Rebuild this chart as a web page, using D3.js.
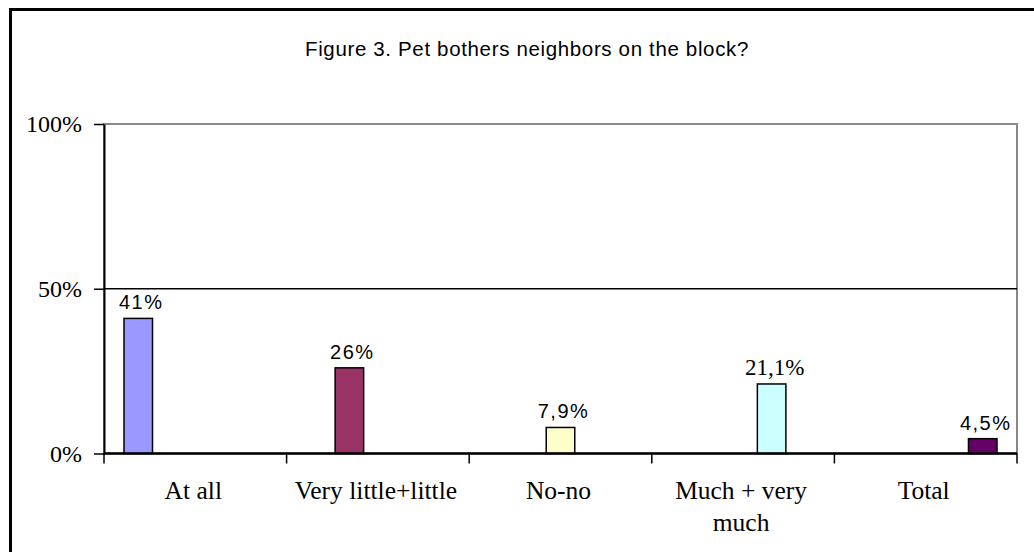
<!DOCTYPE html>
<html>
<head>
<meta charset="utf-8">
<script src="https://cdn.jsdelivr.net/npm/d3@7"></script>
<style>
  html, body { margin: 0; padding: 0; background: #fff; }
  svg { display: block; }
</style>
</head>
<body>
<svg id="chart" width="1034" height="552"></svg>
<script>
// Survey answers: does the pet bother neighbours on the block?
const categories = ["At all", "Very little+little", "No-no", "Much + very much", "Total"];
const tickLines = [["At all"], ["Very little+little"], ["No-no"], ["Much + very", "much"], ["Total"]];
const values = [41, 26, 7.9, 21.1, 4.5];
const valueLabels = ["41%", "26%", "7,9%", "21,1%", "4,5%"];
const colors = ["#9999ff", "#993366", "#ffffcc", "#ccffff", "#660066"];
const yTicks = [0, 50, 100];

const svg = d3.select("#chart");

// outer frame of the figure
svg.append("rect")
  .attr("x", 10.5).attr("y", 9.5)
  .attr("width", 1100).attr("height", 600)
  .attr("fill", "none").attr("stroke", "#000").attr("stroke-width", 3);

svg.append("text")
  .attr("x", 527).attr("y", 56)
  .attr("text-anchor", "middle")
  .attr("font-family", "Arial, 'Liberation Sans', sans-serif")
  .attr("font-size", 20.5)
  .attr("letter-spacing", 0.65)
  .text("Figure 3. Pet bothers neighbors on the block?");

const plotLeft = 104, plotRight = 1017, plotTop = 124, plotBottom = 453.5;

const x0 = d3.scaleBand().domain(categories).range([plotLeft, plotRight]);
const x1 = d3.scaleBand().domain(categories).range([20, x0.bandwidth() - 20]);
const y = d3.scaleLinear().domain([0, 100]).range([plotBottom, plotTop]);

// plot area border
svg.append("rect")
  .attr("x", plotLeft).attr("y", plotTop)
  .attr("width", plotRight - plotLeft).attr("height", plotBottom - plotTop)
  .attr("fill", "none").attr("stroke", "#888").attr("stroke-width", 2);

// gridline at 50%
svg.append("line")
  .attr("x1", plotLeft).attr("x2", plotRight)
  .attr("y1", y(50)).attr("y2", y(50))
  .attr("stroke", "#000").attr("stroke-width", 1.5);

// bars
svg.append("g").selectAll("rect")
  .data(categories)
  .join("rect")
  .attr("x", (d, i) => x0(d) + x1(d))
  .attr("y", (d, i) => y(values[i]))
  .attr("width", x1.bandwidth())
  .attr("height", (d, i) => y(0) - y(values[i]))
  .attr("fill", (d, i) => colors[i])
  .attr("stroke", "#000").attr("stroke-width", 1.5);

// value labels
svg.append("g").selectAll("text")
  .data(categories)
  .join("text")
  .attr("x", (d, i) => x0(d) + x1(d) + x1.bandwidth() / 2 + 3)
  .attr("y", (d, i) => y(values[i]) - 9)
  .attr("text-anchor", "middle")
  .attr("font-family", (d, i) => i === 3 ? "'Times New Roman', 'Liberation Serif', serif" : "Arial, 'Liberation Sans', sans-serif")
  .attr("font-size", (d, i) => i === 3 ? 23 : 20)
  .attr("letter-spacing", (d, i) => i === 3 ? 0 : 1.5)
  .text((d, i) => valueLabels[i]);

// y axis
const yAxis = svg.append("g")
  .attr("transform", `translate(${plotLeft},0)`)
  .call(d3.axisLeft(y).tickValues(yTicks).tickFormat(d => d + "%").tickSize(10).tickSizeOuter(0));
yAxis.select(".domain").attr("stroke-width", 2);
yAxis.selectAll(".tick line").attr("stroke-width", 1.5);
yAxis.selectAll(".tick text")
  .attr("x", -22)
  .attr("font-family", "'Times New Roman', 'Liberation Serif', serif")
  .attr("font-size", 24)
  .attr("fill", "#000");

// x axis: ticks on category boundaries
const xAxis = svg.append("g").attr("transform", `translate(0,${plotBottom})`);
xAxis.append("line")
  .attr("x1", plotLeft).attr("x2", plotRight)
  .attr("stroke", "#000").attr("stroke-width", 2.5);
const bounds = categories.map(c => x0(c)).concat([plotRight]);
xAxis.selectAll("line.tk")
  .data(bounds)
  .join("line").attr("class", "tk")
  .attr("x1", d => d).attr("x2", d => d)
  .attr("y1", 0).attr("y2", 10)
  .attr("stroke", "#000").attr("stroke-width", 1.5);

const labels = xAxis.selectAll("text")
  .data(categories)
  .join("text")
  .attr("text-anchor", "middle")
  .attr("font-family", "'Times New Roman', 'Liberation Serif', serif")
  .attr("font-size", 25.5)
  .attr("fill", "#000");
labels.selectAll("tspan")
  .data((d, i) => tickLines[i].map(t => ({ t, c: d })))
  .join("tspan")
  .attr("x", d => x0(d.c) + x0.bandwidth() / 2 - 2)
  .attr("y", (d, j) => 45 + j * 32)
  .text(d => d.t);
</script>
</body>
</html>
